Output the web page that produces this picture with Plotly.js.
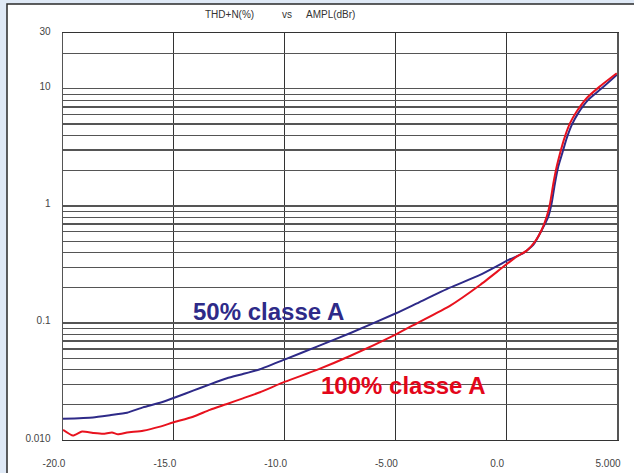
<!DOCTYPE html>
<html>
<head>
<meta charset="utf-8">
<script src="https://cdn.plot.ly/plotly-3.0.1.min.js"></script>
<style>html,body{margin:0;padding:0;background:#dfe9f6;}#chart{width:634px;height:473px;}</style>
</head>
<body>
<div id="chart"></div>
<script>
// 50% classe A (blue)
const blueX = [-20, -18.65, -17.88, -17.11, -16.39, -15.62, -14.86, -14.13, -13.37, -12.6, -11.88, -11.11, -9.98, -8.54, -7.05, -4.97, -4.03, -2.54, -1.18, 0.17, 0.77, 1.22, 1.6, 1.9, 2.05, 2.2, 2.35, 2.53, 2.73, 2.96, 3.25, 3.7, 4.31, 5.0];
const blueY = [0.0152, 0.0156, 0.0163, 0.0171, 0.019, 0.0208, 0.0234, 0.0264, 0.0299, 0.0337, 0.0366, 0.0402, 0.0489, 0.0627, 0.0817, 0.121, 0.147, 0.2, 0.257, 0.35, 0.394, 0.464, 0.62, 0.81, 1.05, 1.56, 2.17, 2.82, 3.78, 4.92, 6.2, 8.05, 10.1, 13.2];
// 100% classe A (red)
const redX = [-20, -19.55, -19.14, -18.65, -18.19, -17.79, -17.52, -17.11, -16.39, -15.62, -15.04, -14.13, -13.37, -12.6, -11.88, -11.11, -9.98, -8.54, -7.05, -4.97, -4.03, -2.54, -1.18, 0.47, 0.93, 1.3, 1.6, 1.83, 1.98, 2.13, 2.28, 2.43, 2.65, 2.88, 3.18, 3.63, 4.23, 4.99];
const redY = [0.0122, 0.0109, 0.0118, 0.0115, 0.0113, 0.0116, 0.0112, 0.0116, 0.012, 0.013, 0.0141, 0.0158, 0.0181, 0.0203, 0.0227, 0.0256, 0.0315, 0.0397, 0.0522, 0.08, 0.0994, 0.14, 0.211, 0.369, 0.415, 0.495, 0.623, 0.811, 1.05, 1.56, 2.17, 2.82, 3.91, 5.09, 6.4, 8.32, 10.5, 13.6];

const xTickVals = [-20, -15, -10, -5, 0, 5];
const xTickText = ['-20.0', '-15.0', '-10.0', '-5.00', '0.0', '5.000'];
const yTickVals = [0.01,0.02,0.03,0.04,0.05,0.06,0.07,0.08,0.09,0.1,0.2,0.3,0.4,0.5,0.6,0.7,0.8,0.9,1,2,3,4,5,6,7,8,9,10,20,30];
const yTickText = ['0.010','','','','','','','','','0.1','','','','','','','','','1','','','','','','','','','10','','30'];

const titleParts = ['THD+N(%)', 'vs', 'AMPL(dBr)'];
const seriesNames = ['50% classe A', '100% classe A'];

const tickFont = {family: 'Liberation Sans, Arial, sans-serif', size: 10, color: '#444'};

const traces = [
  {x: blueX, y: blueY, type: 'scatter', mode: 'lines', name: seriesNames[0],
   line: {color: '#2e2a88', width: 2, shape: 'spline', smoothing: 0.5}},
  {x: redX, y: redY, type: 'scatter', mode: 'lines', name: seriesNames[1],
   line: {color: '#e8121e', width: 2, shape: 'spline', smoothing: 0.5}}
];

const layout = {
  width: 634, height: 473,
  margin: {l: 63, r: 17, t: 33, b: 33},
  paper_bgcolor: '#dfe9f6',
  plot_bgcolor: '#ffffff',
  showlegend: false,
  xaxis: {
    range: [-20, 5], tickvals: xTickVals, ticktext: xTickText,
    showgrid: true, gridcolor: '#333', gridwidth: 1,
    zeroline: false, showline: true, mirror: true, linecolor: '#333', linewidth: 1,
    ticks: '', tickfont: tickFont, ticklabelstandoff: 14, ticklabelshift: -9
  },
  yaxis: {
    type: 'log', range: [-2, Math.log10(30)], tickvals: yTickVals, ticktext: yTickText,
    showgrid: true, gridcolor: '#555', gridwidth: 1.2,
    zeroline: false, showline: true, mirror: true, linecolor: '#555', linewidth: 1.5,
    ticks: '', tickfont: tickFont, ticklabelstandoff: 9, ticklabelshift: -2
  },
  shapes: [
    {type: 'rect', xref: 'paper', yref: 'paper', layer: 'below',
     x0: (7 - 63) / 554, x1: (660 - 63) / 554, y0: -0.2, y1: (440 - 4) / 407,
     fillcolor: '#ffffff', line: {color: '#2a2a2a', width: 1.5}}
  ],
  annotations: [
    {text: titleParts[0], xref: 'paper', yref: 'paper', x: (203 - 63) / 554, y: (440 - 15) / 407,
     xanchor: 'left', yanchor: 'middle', showarrow: false, font: {family: 'Liberation Sans, Arial, sans-serif', size: 10, color: '#333'}},
    {text: titleParts[1], xref: 'paper', yref: 'paper', x: (280 - 63) / 554, y: (440 - 15) / 407,
     xanchor: 'left', yanchor: 'middle', showarrow: false, font: {family: 'Liberation Sans, Arial, sans-serif', size: 10, color: '#333'}},
    {text: titleParts[2], xref: 'paper', yref: 'paper', x: (304 - 63) / 554, y: (440 - 15) / 407,
     xanchor: 'left', yanchor: 'middle', showarrow: false, font: {family: 'Liberation Sans, Arial, sans-serif', size: 10, color: '#333'}},
    {text: '<b>' + seriesNames[0] + '</b>', xref: 'x', yref: 'y', x: -10.73, y: -0.906,
     xanchor: 'center', yanchor: 'middle', showarrow: false,
     font: {family: 'Liberation Sans, Arial, sans-serif', size: 24, color: '#2e2a88'}},
    {text: '<b>' + seriesNames[1] + '</b>', xref: 'x', yref: 'y', x: -4.63, y: -1.538,
     xanchor: 'center', yanchor: 'middle', showarrow: false,
     font: {family: 'Liberation Sans, Arial, sans-serif', size: 24, color: '#e3061a'}}
  ]
};

Plotly.newPlot('chart', traces, layout, {displayModeBar: false, staticPlot: true});
</script>
</body>
</html>
